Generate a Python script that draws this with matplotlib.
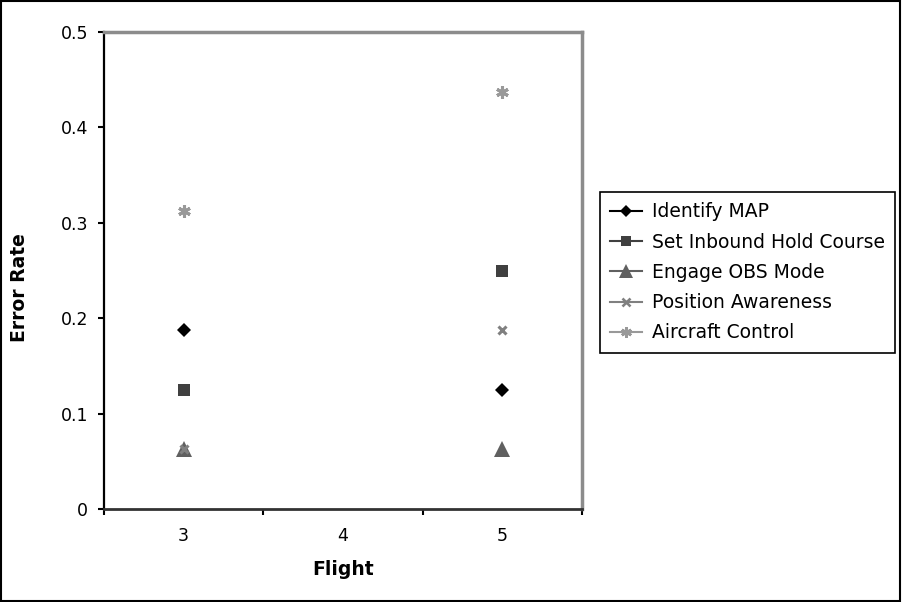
import matplotlib
matplotlib.use("Agg")
import matplotlib.pyplot as plt
from matplotlib.lines import Line2D
from matplotlib.patches import Rectangle

flights = [3, 4, 5]
series_names = ["Identify MAP", "Set Inbound Hold Course", "Engage OBS Mode",
                "Position Awareness", "Aircraft Control"]
# error rates per series, one value per flight (None = no observation)
identify_map = [0.1875, None, 0.125]
set_inbound_hold = [0.125, None, 0.25]
engage_obs = [0.0625, None, 0.0625]
position_awareness = [0.0625, None, 0.1875]
aircraft_control = [0.3125, None, 0.4375]
y_ticks = [0, 0.1, 0.2, 0.3, 0.4, 0.5]
y_tick_labels = ["0", "0.1", "0.2", "0.3", "0.4", "0.5"]

values = [identify_map, set_inbound_hold, engage_obs, position_awareness, aircraft_control]
styles = [
    dict(marker="D", color="#000000", ms=7, mew=0),
    dict(marker="s", color="#404040", ms=8.5, mew=0),
    dict(marker="^", color="#606060", ms=11.5, mew=0),
    dict(marker="x", color="#808080", ms=6, mew=2.2),
    dict(marker=(6, 2, 0), color="#999999", ms=9, mew=2.2),
]

plt.rcParams["font.family"] = ["DejaVu Sans"]
fig = plt.figure(figsize=(9.02, 6.02), dpi=100)
ax = fig.add_axes([104 / 902, 1 - 509 / 602, (582 - 104) / 902, (509 - 32) / 602])

handles = []
for name, vals, st in zip(series_names, values, styles):
    xs = [f for f, v in zip(flights, vals) if v is not None]
    ys = [v for v in vals if v is not None]
    ax.plot(xs, ys, linestyle="none", marker=st["marker"], color=st["color"],
            markersize=st["ms"], markeredgewidth=st["mew"], markeredgecolor=st["color"],
            clip_on=False, zorder=3)
    handles.append(Line2D([], [], color=st["color"], lw=1.5, marker=st["marker"],
                          markersize=st["ms"] * 0.85, markeredgewidth=st["mew"] * 0.85,
                          markeredgecolor=st["color"], label=name))

ax.set_xlim(flights[0] - 0.5, flights[-1] + 0.5)
ax.set_ylim(0, 0.5)

# category axis: tick marks between categories, labels centred on them
ax.set_xticks([f - 0.5 for f in flights] + [flights[-1] + 0.5])
ax.set_xticklabels([])
ax.set_xticks(flights, minor=True)
ax.set_xticklabels([str(f) for f in flights], minor=True, fontsize=12.5)
ax.tick_params(axis="x", which="major", direction="out", length=4.5, width=1.5, color="#000000")
ax.tick_params(axis="x", which="minor", length=0, pad=13)

ax.set_yticks(y_ticks)
ax.set_yticklabels(y_tick_labels, fontsize=12.5)
ax.tick_params(axis="y", direction="out", length=4.5, width=1.5, pad=7)

ax.spines["left"].set_color("#000000")
ax.spines["left"].set_linewidth(1.6)
ax.spines["bottom"].set_color("#333333")
ax.spines["bottom"].set_linewidth(2.0)
for side in ("top", "right"):
    ax.spines[side].set_color("#8c8c8c")
    ax.spines[side].set_linewidth(2.5)

ax.set_xlabel("Flight", fontsize=13.5, fontweight="bold", labelpad=11)
ax.set_ylabel("Error Rate", fontsize=13.5, fontweight="bold", labelpad=23, y=0.465)

leg = fig.legend(handles=handles, loc="upper left",
                 bbox_to_anchor=(600 / 902, 1 - 192 / 602), fontsize=13.5,
                 frameon=True, fancybox=False, edgecolor="#000000", framealpha=1,
                 borderpad=0.55, labelspacing=0.6, handlelength=1.7, handletextpad=0.5,
                 borderaxespad=0)
leg.get_frame().set_linewidth(1.2)

fig.patches.append(Rectangle((0.001, 0.001), 0.997, 0.997, transform=fig.transFigure,
                             fill=False, edgecolor="#000000", linewidth=1.5))

fig.savefig("out.png", dpi=100)
